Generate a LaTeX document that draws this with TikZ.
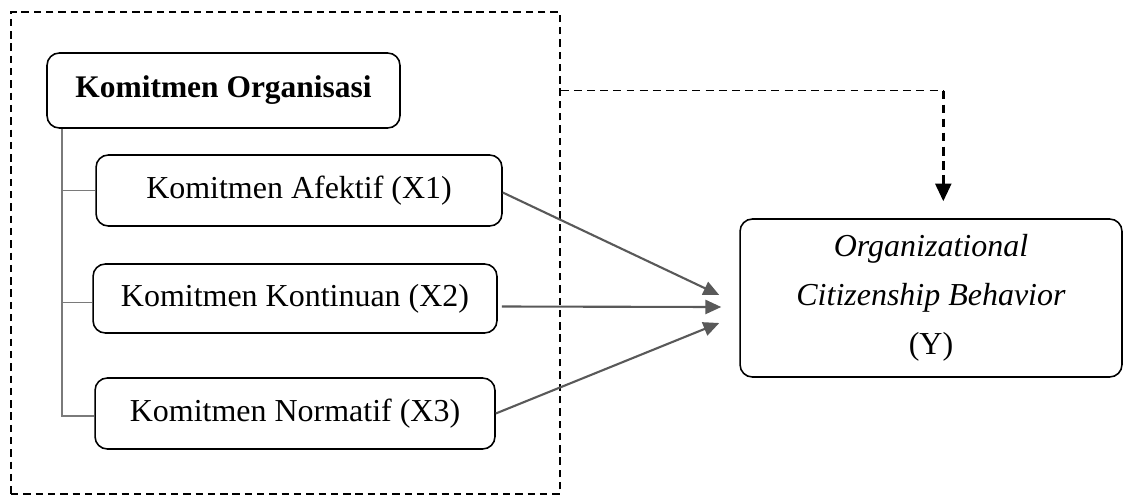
\documentclass[tikz,border=0pt]{standalone}
\usepackage{fontspec}
\setmainfont{Liberation Serif}
\usetikzlibrary{arrows.meta}
\tikzset{>={Triangle[length=9pt,width=8pt]}}
\definecolor{linkgray}{HTML}{595959}
\definecolor{treegray}{HTML}{7A7A7A}
\tikzset{
  varbox/.style={draw, rounded corners=7pt, line width=0.9pt, align=center,
    font=\fontsize{18.2}{28}\selectfont},
  treeline/.style={draw=treegray, line width=0.9pt},
  effect/.style={->, draw=linkgray, fill=linkgray, line width=1.2pt},
  groupbox/.style={draw, dash pattern=on 4.2pt off 2.8pt, line width=0.8pt},
}

\begin{document}
\begin{tikzpicture}[x=0.02cm,y=-0.02cm]
    \useasboundingbox (0,0) rectangle (1125,498);
    %group of the three dimensions
    \node[groupbox, minimum width=10.98cm, minimum height=9.64cm] (group) at (285.5,253) {};
    %boxes
    \node[varbox, minimum width=7.06cm, minimum height=1.5cm, font=\fontsize{17.9}{21}\selectfont\bfseries] (org) at (223.5,90.5) {Komitmen Organisasi};
    \node[varbox, minimum width=8.12cm, minimum height=1.42cm] (afe) at (299,190.5) {Komitmen Afektif (X1)};
    \node[varbox, minimum width=8.08cm, minimum height=1.38cm] (kon) at (295,298.5) {Komitmen Kontinuan (X2)};
    \node[varbox, minimum width=8.0cm, minimum height=1.42cm] (nor) at (295,413.5) {Komitmen Normatif (X3)};
    \node[varbox, minimum width=7.64cm, minimum height=3.16cm] (ocb) at (931,298) {\textit{Organizational}\\ \textit{Citizenship Behavior}\\ (Y)};
    %tree
    \coordinate (trunk) at ([xshift=0.32cm]org.south west);
    \draw[treeline] (trunk) |- (afe.west);
    \draw[treeline] (trunk) |- ([yshift=-0.08cm]kon.west);
    \draw[treeline] (trunk) |- ([yshift=-0.05cm]nor.west);
    %effects
    \draw[effect] ([shift={(0,2)}]afe.east) -- ([shift={(-20,-3)}]ocb.west);
    \draw[effect] ([shift={(4,8)}]kon.east) -- ([shift={(-18,9)}]ocb.west);
    \draw[effect] (nor.east) -- ([shift={(-20,25)}]ocb.west);
    %simultaneous effect
    \coordinate (bend) at ([xshift=7]ocb.north |- org.east);
    \draw[dash pattern=on 4.5pt off 3pt, line width=0.9pt] (group.east |- org.east) -- (bend);
    \draw[->, >={Triangle[length=10pt,width=9pt]}, dash pattern=on 5pt off 3pt, line width=1.5pt, shorten >=0.34cm]
      (bend) -- ([xshift=7]ocb.north);
\end{tikzpicture}
\end{document}
